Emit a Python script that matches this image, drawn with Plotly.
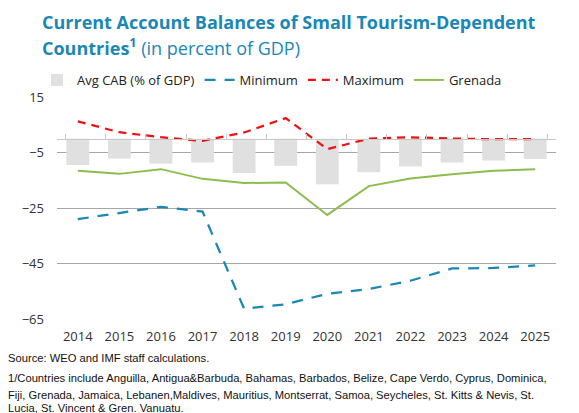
import plotly.graph_objects as go

# Données lues du graphique
years = [str(y) for y in range(2014, 2026)]
avg_cab = [-9.5, -7.2, -9.0, -8.6, -12.4, -9.8, -16.4, -12.1, -10.0, -8.6, -7.9, -7.3]
minimum = [-29.0, -26.9, -24.6, -26.3, -61.3, -59.7, -55.9, -54.2, -51.2, -46.8, -46.6, -45.7]
maximum = [6.2, 2.3, 0.5, -0.8, 2.2, 7.4, -3.8, 0.0, 0.5, 0.0, -0.2, -0.2]
grenada = [-11.6, -12.7, -11.0, -14.5, -16.0, -15.8, -27.5, -17.1, -14.4, -12.8, -11.6, -11.0]
y_ticks = [15, -5, -25, -45, -65]

BLUE = '#1a87b5'
FONT = 'Open Sans'
W, H = 579, 413
L, R, T, B = 57, 23, 97, 94


def py(p):
    # pixel vertical -> coordonnée papier
    return (H - B - p) / (H - T - B)


def px(p):
    return (p - L) / (W - L - R)


fig = go.Figure()
fig.add_trace(go.Bar(name='Avg CAB (% of GDP)', x=years, y=avg_cab,
                     marker=dict(color='#e0e0e0', line_width=0)))
fig.add_trace(go.Scatter(name='Minimum', x=years, y=minimum, mode='lines',
                         line=dict(color=BLUE, width=2.25, dash='11px,9px')))
fig.add_trace(go.Scatter(name='Maximum', x=years, y=maximum, mode='lines',
                         line=dict(color='#ee1111', width=2.25, dash='8px,6px')))
fig.add_trace(go.Scatter(name='Grenada', x=years, y=grenada, mode='lines',
                         line=dict(color='#8dbd4e', width=2)))
# axe horizontal au niveau zéro (trait + graduations)
fig.add_trace(go.Scatter(x=years, y=[None] * len(years), xaxis='x2',
                         showlegend=False, hoverinfo='skip'))

fig.update_layout(
    width=W, height=H,
    margin=dict(l=L, r=R, t=T, b=B, autoexpand=False),
    plot_bgcolor='white', paper_bgcolor='white',
    font=dict(family=FONT, size=13, color='#333333'),
    bargap=0.45,
    showlegend=True,
    legend=dict(orientation='h', x=px(272), xanchor='center', y=py(80), yanchor='middle',
                font=dict(size=13, color='#222222'), itemwidth=30,
                traceorder='normal', bgcolor='rgba(0,0,0,0)'),
    xaxis=dict(type='category', showgrid=False, showline=False, ticks='', automargin=False,
               ticklabelstandoff=8, tickfont=dict(size=13, color='#333333')),
    xaxis2=dict(type='category', overlaying='x', anchor='free', position=65 / 80,
                showline=True, linecolor='#c8c8c8', linewidth=1, automargin=False,
                ticks='inside', tickson='boundaries', ticklen=5, tickcolor='#c8c8c8',
                showticklabels=False, showgrid=False, side='bottom'),
    yaxis=dict(range=[-65, 15], tickvals=y_ticks, showgrid=True, gridcolor='#a6a6a6',
               gridwidth=1, zeroline=False, showline=False, ticklabelstandoff=12,
               automargin=False, tickfont=dict(size=13, color='#333333')),
)

NOTE = dict(size=11.2, color='#111111', family='Liberation Sans')
annotations = [
    dict(text='<b>Current Account Balances of Small Tourism-Dependent</b>',
         x=px(40), y=py(22), font=dict(size=18, color=BLUE)),
    dict(text='<b>Countries<sup>1</sup></b> (in percent of GDP)',
         x=px(40), y=py(47), font=dict(size=18, color=BLUE)),
    dict(text='Source: WEO and IMF staff calculations.',
         x=px(6), y=py(358), font=NOTE),
    dict(text='1/Countries include Anguilla, Antigua&Barbuda, Bahamas, Barbados, Belize, Cape Verdo, Cyprus, Dominica,',
         x=px(6), y=py(378), font=NOTE),
    dict(text='Fiji, Grenada, Jamaica, Lebanen,Maldives, Mauritius, Montserrat, Samoa, Seycheles, St. Kitts & Nevis, St.',
         x=px(6), y=py(395), font=NOTE),
    dict(text='Lucia, St. Vincent & Gren. Vanuatu.',
         x=px(6), y=py(408), font=NOTE),
]
for a in annotations:
    fig.add_annotation(xref='paper', yref='paper', xanchor='left', yanchor='middle',
                       showarrow=False, align='left', **a)

fig.write_html('out.html', config={'displayModeBar': False},
               post_script="document.body.style.margin='0';")
